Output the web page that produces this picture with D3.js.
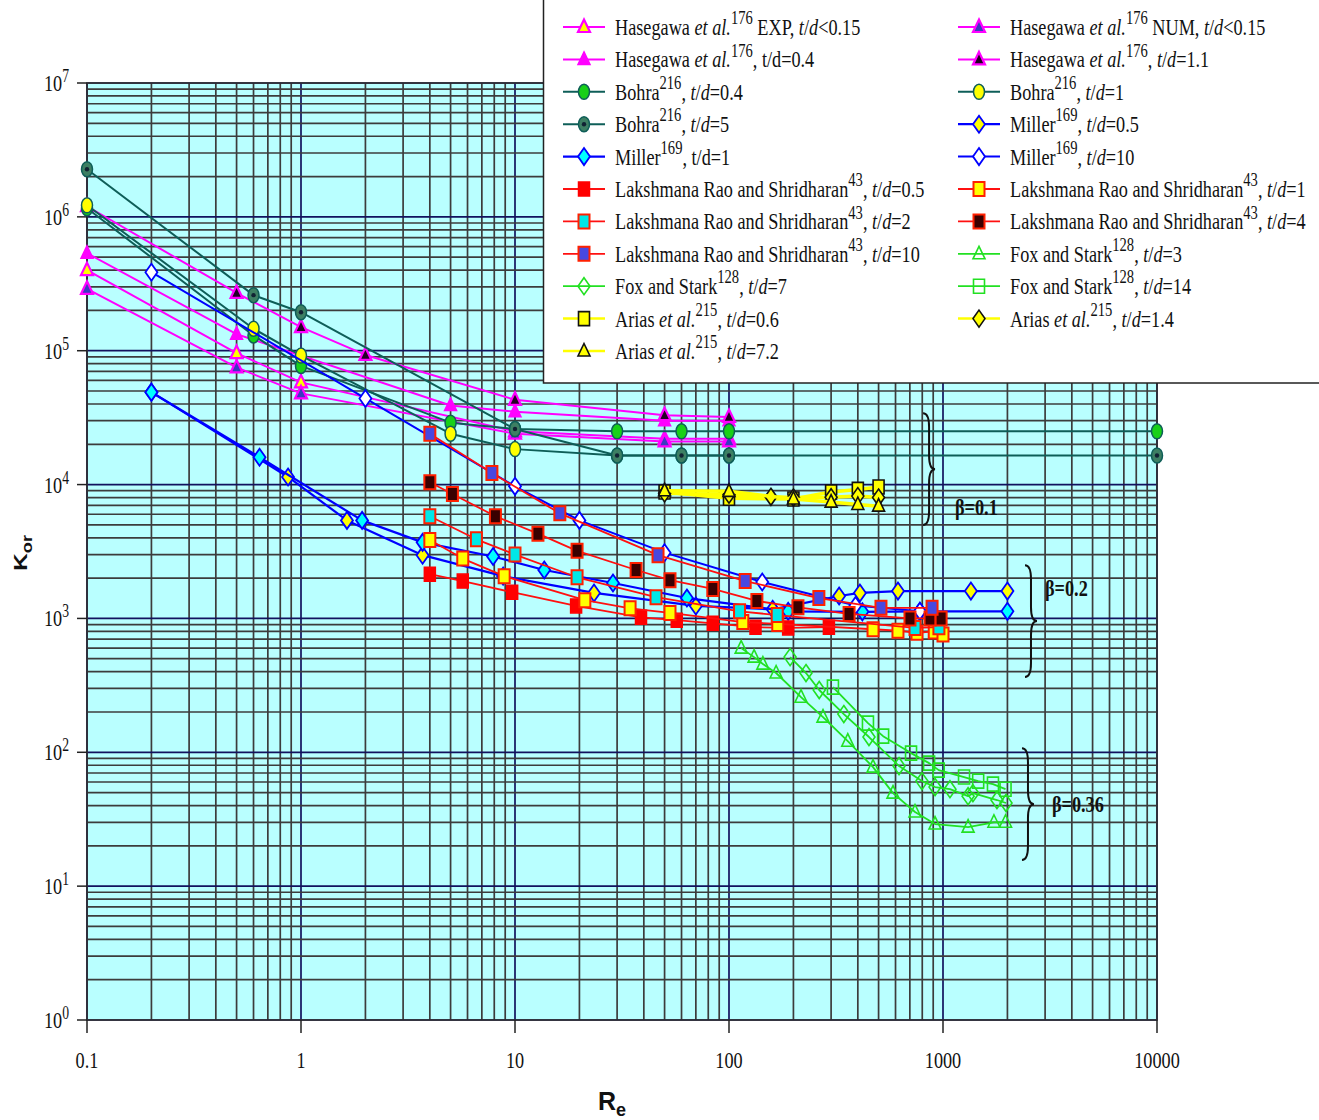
<!DOCTYPE html>
<html>
<head>
<meta charset="utf-8">
<script src="https://cdn.jsdelivr.net/npm/d3@7"></script>
<style>
  body { margin: 0; background: #fff; }
  svg text { font-family: "Liberation Serif", "Times New Roman", serif; white-space: pre; }
</style>
</head>
<body>
<svg id="draw-here"></svg>
<script>
// Hasegawa et al. (176)
const hasExpRe = [0.1, 0.5, 1, 10, 50, 100];
const hasExpK  = [4.0e5, 9.6e4, 5.8e4, 2.5e4, 2.2e4, 2.2e4];
const hasNumRe = [0.1, 0.5, 1, 10, 50, 100];
const hasNumK  = [2.9e5, 7.5e4, 4.8e4, 2.4e4, 2.1e4, 2.1e4];
const has04Re  = [0.1, 0.5, 5, 10, 50, 100];
const has04K   = [5.35e5, 1.33e5, 3.9e4, 3.5e4, 3.0e4, 3.0e4];
const has11Re  = [0.1, 0.5, 1, 2, 10, 50, 100];
const has11K   = [1.2e6, 2.7e5, 1.5e5, 9.3e4, 4.3e4, 3.3e4, 3.2e4];

// Bohra (216)
const bohra04Re = [0.1, 0.6, 1, 5, 10, 30, 60, 100, 10000];
const bohra04K  = [1.16e6, 1.3e5, 7.7e4, 2.9e4, 2.6e4, 2.5e4, 2.5e4, 2.5e4, 2.5e4];
const bohra1Re  = [0.1, 0.6, 1, 5, 10, 30, 60, 100];
const bohra1K   = [1.22e6, 1.46e5, 9.2e4, 2.4e4, 1.84e4, 1.65e4, 1.65e4, 1.65e4];
const bohra5Re  = [0.1, 0.6, 1, 10, 30, 60, 100, 10000];
const bohra5K   = [2.27e6, 2.6e5, 1.94e5, 2.6e4, 1.65e4, 1.65e4, 1.65e4, 1.65e4];

// Miller (169)
const miller05Re = [0.2, 0.87, 1.64, 3.7, 8.8, 23.4, 70, 160, 327, 409, 616, 1350, 2000];
const miller05K  = [4.9e4, 1.14e4, 5.4e3, 2.97e3, 2.07e3, 1.55e3, 1.24e3, 1.17e3, 1.47e3, 1.55e3, 1.6e3, 1.6e3, 1.6e3];
const miller1Re  = [0.2, 0.64, 1.93, 3.7, 7.9, 13.7, 28.7, 63.6, 189, 420, 780, 2000];
const miller1K   = [4.9e4, 1.6e4, 5.4e3, 3.7e3, 2.9e3, 2.3e3, 1.84e3, 1.42e3, 1.13e3, 1.12e3, 1.13e3, 1.13e3];
const miller10Re = [0.2, 2, 10, 20, 50, 143, 390, 780];
const miller10K  = [3.86e5, 4.4e4, 9.7e3, 5.4e3, 3.1e3, 1.87e3, 1.25e3, 1.13e3];

// Lakshmana Rao and Shridharan (43)
const lrs05Re = [4, 5.7, 9.7, 19.3, 38.8, 57, 84, 133, 189, 293];
const lrs05K  = [2.14e3, 1.9e3, 1.57e3, 1.24e3, 1.02e3, 970, 920, 860, 850, 860];
const lrs1Re  = [4, 5.7, 8.9, 21.2, 34.5, 53, 116, 169, 471, 616, 756, 910, 1000];
const lrs1K   = [3.85e3, 2.8e3, 2.07e3, 1.37e3, 1.19e3, 1.1e3, 940, 910, 830, 810, 780, 800, 760];
const lrs2Re  = [4, 6.6, 10, 19.5, 45.6, 112, 168, 740, 957];
const lrs2K   = [5.8e3, 3.9e3, 3.0e3, 2.03e3, 1.44e3, 1.13e3, 1.06e3, 850, 860];
const lrs4Re  = [4, 5.1, 8.1, 12.8, 19.5, 36.8, 53, 84, 135, 210, 364, 701, 870, 980];
const lrs4K   = [1.04e4, 8.5e3, 5.8e3, 4.3e3, 3.2e3, 2.3e3, 1.93e3, 1.66e3, 1.35e3, 1.21e3, 1.08e3, 1.0e3, 1.0e3, 1.0e3];
const lrs10Re = [4, 7.8, 16.2, 46.6, 119, 263, 513, 889];
const lrs10K  = [2.4e4, 1.22e4, 6.1e3, 2.97e3, 1.9e3, 1.42e3, 1.2e3, 1.2e3];

// Fox and Stark (128)
const fox3Re  = [114, 131, 144, 166, 217, 275, 359, 471, 584, 740, 918, 1310, 1730, 1960];
const fox3K   = [600, 514, 456, 391, 258, 183, 121, 77.5, 49.5, 35.8, 29.1, 27.6, 30, 30];
const fox7Re  = [193, 229, 264, 344, 451, 623, 797, 918, 1078, 1310, 1380, 1787, 1970];
const fox7K   = [514, 391, 292, 193, 130, 78.9, 60.9, 55, 53, 47, 49.5, 44, 41.8];
const fox14Re = [306, 446, 525, 709, 861, 955, 1254, 1460, 1712, 1960];
const fox14K  = [307, 165, 132, 98.6, 83, 73.6, 65.3, 60.9, 57.8, 53];

// Arias et al. (215)
const arias06Re = [50, 100, 200, 300, 400, 500];
const arias06K  = [8.8e3, 7.9e3, 7.8e3, 8.8e3, 9.2e3, 9.6e3];
const arias14Re = [50, 100, 157, 200, 300, 400, 500];
const arias14K  = [8.6e3, 8.4e3, 8.1e3, 8.0e3, 8.05e3, 8.2e3, 8.0e3];
const arias72Re = [50, 100, 200, 300, 400, 500];
const arias72K  = [9.0e3, 8.9e3, 7.8e3, 7.4e3, 7.1e3, 6.9e3];

// {..} = italic, ^nn = superscript
const legendLabels = [
  'Hasegawa {et al.}^176 EXP, {t}/{d}<0.15',
  'Hasegawa {et al.}^176 NUM, {t}/{d}<0.15',
  'Hasegawa {et al.}^176, t/d=0.4',
  'Hasegawa {et al.}^176, {t}/{d}=1.1',
  'Bohra^216, {t}/{d}=0.4',
  'Bohra^216, {t}/{d}=1',
  'Bohra^216, {t}/{d}=5',
  'Miller^169, {t}/{d}=0.5',
  'Miller^169, t/d=1',
  'Miller^169, {t}/{d}=10',
  'Lakshmana Rao and Shridharan^43, {t}/{d}=0.5',
  'Lakshmana Rao and Shridharan^43, {t}/{d}=1',
  'Lakshmana Rao and Shridharan^43, {t}/{d}=2',
  'Lakshmana Rao and Shridharan^43, {t}/{d}=4',
  'Lakshmana Rao and Shridharan^43, {t}/{d}=10',
  'Fox and Stark^128, {t}/{d}=3',
  'Fox and Stark^128, {t}/{d}=7',
  'Fox and Stark^128, {t}/{d}=14',
  'Arias {et al.}^215, {t}/{d}=0.6',
  'Arias {et al.}^215, {t}/{d}=1.4',
  'Arias {et al.}^215, {t}/{d}=7.2'
];

const xTickValues = [0.1, 1, 10, 100, 1000, 10000];
const xTickLabels = ['0.1', '1', '10', '100', '1000', '10000'];
const yTickValues = [1, 10, 1e2, 1e3, 1e4, 1e5, 1e6, 1e7];
const yTickExps   = ['0', '1', '2', '3', '4', '5', '6', '7'];

// beta groups: Re of the brace, K top / bottom, Re and K of the label
const betaLabels = ['β=0.1', 'β=0.2', 'β=0.36'];
const betaBraceRe = [807, 2416, 2339];
const betaBraceTop = [3.41e4, 2.5e3, 107];
const betaBraceBottom = [4.98e3, 365, 15.7];
const betaTextRe = [1138, 2997, 3229];
const betaTextK = [5.9e3, 1.47e3, 35.7];

const W = 1319, H = 1120;
const SQ = 0.76; // horizontal squeeze of the serif text

const svg = d3.select('#draw-here').attr('width', W).attr('height', H);

const x = d3.scaleLog().domain([0.1, 10000]).range([87, 1157]);
const y = d3.scaleLog().domain([1, 1e7]).range([1020, 83]);

// plot background
svg.append('rect')
  .attr('x', x(0.1)).attr('y', y(1e7))
  .attr('width', x(1e4) - x(0.1)).attr('height', y(1) - y(1e7))
  .attr('fill', '#b9ffff');

// log grid
let xGrid = [], yGrid = [];
for (let e = -1; e < 4; e++) for (let m = 1; m < 10; m++) xGrid.push({v: m * Math.pow(10, e), major: m === 1});
xGrid.push({v: 1e4, major: true});
for (let e = 0; e < 7; e++) for (let m = 1; m < 10; m++) yGrid.push({v: m * Math.pow(10, e), major: m === 1});
yGrid.push({v: 1e7, major: true});

let grid = svg.append('g');
grid.selectAll('.gx').data(xGrid).enter().append('line')
  .attr('x1', d => x(d.v)).attr('x2', d => x(d.v))
  .attr('y1', y(1e7)).attr('y2', y(1))
  .attr('stroke', d => d.major ? '#12125e' : '#3c3c3c')
  .attr('stroke-width', 1.7);
grid.selectAll('.gy').data(yGrid).enter().append('line')
  .attr('y1', d => y(d.v)).attr('y2', d => y(d.v))
  .attr('x1', x(0.1)).attr('x2', x(1e4))
  .attr('stroke', d => d.major ? '#12125e' : '#3c3c3c')
  .attr('stroke-width', 1.7);

svg.append('rect')
  .attr('x', x(0.1)).attr('y', y(1e7))
  .attr('width', x(1e4) - x(0.1)).attr('height', y(1) - y(1e7))
  .attr('fill', 'none').attr('stroke', '#303030').attr('stroke-width', 1.6);

// ticks
svg.selectAll('.tx').data(xTickValues).enter().append('line')
  .attr('x1', d => x(d)).attr('x2', d => x(d))
  .attr('y1', y(1)).attr('y2', y(1) + 13)
  .attr('stroke', '#222').attr('stroke-width', 1.5);
svg.selectAll('.ty').data(yTickValues).enter().append('line')
  .attr('y1', d => y(d)).attr('y2', d => y(d))
  .attr('x1', x(0.1) - 10).attr('x2', x(0.1))
  .attr('stroke', '#222').attr('stroke-width', 1.5);

function squeezed(parent, px, py, size, anchor) {
  return parent.append('text')
    .attr('transform', `translate(${px},${py}) scale(${SQ},1)`)
    .attr('font-size', size)
    .attr('text-anchor', anchor || 'start')
    .attr('fill', '#111');
}

xTickValues.forEach((v, i) => {
  squeezed(svg, x(v), y(1) + 48, 24, 'middle').text(xTickLabels[i]);
});
yTickValues.forEach((v, i) => {
  let t = squeezed(svg, x(0.1) - 18, y(v) + 8, 24, 'end');
  t.append('tspan').text('10');
  t.append('tspan').text(yTickExps[i]).attr('font-size', 18).attr('dy', -9);
});

// axis titles
let re = svg.append('text')
  .attr('x', 598).attr('y', 1110)
  .style('font-family', 'Liberation Sans, Arial, sans-serif')
  .attr('font-weight', 'bold').attr('font-size', 25).attr('fill', '#111');
re.append('tspan').text('R');
re.append('tspan').text('e').attr('font-size', 18).attr('dy', 6);

let kor = svg.append('text')
  .attr('transform', 'translate(27,553) rotate(-90) scale(1.3,1)')
  .attr('text-anchor', 'middle')
  .style('font-family', 'Liberation Sans, Arial, sans-serif')
  .attr('font-weight', 'bold').attr('font-size', 19).attr('fill', '#111');
kor.append('tspan').text('K');
kor.append('tspan').text('or').attr('font-size', 14).attr('dy', 5);

// marker shapes (the picture is stretched vertically)
const shapes = {
  tri: 'M0,-7.5L6,5L-6,5Z',
  square: 'M-5.5,-7H5.5V7H-5.5Z',
  diamond: 'M0,-8.5L6,0L0,8.5L-6,0Z',
  circle: 'M0,-7.5A5.5,7.5 0 1,1 0,7.5A5.5,7.5 0 1,1 0,-7.5Z'
};

const teal = '#0e5e58';
const series = [
  {re: hasExpRe, k: hasExpK, line: '#ff00ff', lw: 2, shape: 'tri', fill: '#ffff00', stroke: '#ff00ff', sw: 2.2},
  {re: hasNumRe, k: hasNumK, line: '#ff00ff', lw: 2, shape: 'tri', fill: '#3a3ac0', stroke: '#ff00ff', sw: 2.2},
  {re: has04Re, k: has04K, line: '#ff00ff', lw: 2, shape: 'tri', fill: '#ff00ff', stroke: '#ff00ff', sw: 1.5},
  {re: has11Re, k: has11K, line: '#ff00ff', lw: 2, shape: 'tri', fill: '#220022', stroke: '#ff00ff', sw: 2.2},
  {re: bohra04Re, k: bohra04K, line: teal, lw: 2, shape: 'circle', fill: '#18d018', stroke: teal, sw: 1.5},
  {re: bohra1Re, k: bohra1K, line: teal, lw: 2, shape: 'circle', fill: '#ffff00', stroke: teal, sw: 1.5},
  {re: bohra5Re, k: bohra5K, line: teal, lw: 2, shape: 'circle', fill: '#3d7f63', stroke: teal, sw: 1.5, dot: true},
  {re: miller05Re, k: miller05K, line: '#0000ff', lw: 2.2, shape: 'diamond', fill: '#ffff00', stroke: '#0000ff', sw: 1.8},
  {re: miller1Re, k: miller1K, line: '#0000ff', lw: 2.2, shape: 'diamond', fill: '#00ffff', stroke: '#0000ff', sw: 1.8},
  {re: miller10Re, k: miller10K, line: '#0000ff', lw: 2, shape: 'diamond', fill: '#ffffff', stroke: '#0000ff', sw: 1.8},
  {re: lrs05Re, k: lrs05K, line: '#ff1010', lw: 1.8, shape: 'square', fill: '#ff0000', stroke: '#ff0000', sw: 1.5},
  {re: lrs1Re, k: lrs1K, line: '#ff1010', lw: 1.8, shape: 'square', fill: '#ffff00', stroke: '#ff2000', sw: 2},
  {re: lrs2Re, k: lrs2K, line: '#ff1010', lw: 1.8, shape: 'square', fill: '#00e8e8', stroke: '#ff2000', sw: 2},
  {re: lrs4Re, k: lrs4K, line: '#ff1010', lw: 1.8, shape: 'square', fill: '#3a0000', stroke: '#ff2000', sw: 2},
  {re: lrs10Re, k: lrs10K, line: '#ff1010', lw: 1.8, shape: 'square', fill: '#4848e0', stroke: '#ff2000', sw: 2},
  {re: fox3Re, k: fox3K, line: '#22e022', lw: 1.8, shape: 'tri', fill: 'none', stroke: '#22e022', sw: 1.6},
  {re: fox7Re, k: fox7K, line: '#22e022', lw: 1.8, shape: 'diamond', fill: 'none', stroke: '#22e022', sw: 1.6},
  {re: fox14Re, k: fox14K, line: '#22e022', lw: 1.8, shape: 'square', fill: 'none', stroke: '#22e022', sw: 1.6},
  {re: arias06Re, k: arias06K, line: '#ffff00', lw: 3.5, shape: 'square', fill: '#ffff00', stroke: '#111', sw: 1.6},
  {re: arias14Re, k: arias14K, line: '#ffff00', lw: 3.5, shape: 'diamond', fill: '#ffff00', stroke: '#111', sw: 1.6},
  {re: arias72Re, k: arias72K, line: '#ffff00', lw: 3.5, shape: 'tri', fill: '#ffff00', stroke: '#111', sw: 1.6}
];

function drawMarker(sel, s) {
  sel.append('path').attr('d', shapes[s.shape])
    .attr('fill', s.fill).attr('stroke', s.stroke).attr('stroke-width', s.sw);
  if (s.dot) sel.append('circle').attr('r', 2.2).attr('fill', '#123').attr('stroke', 'none');
}

let line = d3.line().x(d => x(d[0])).y(d => y(d[1]));
let plot = svg.append('g');
series.forEach(s => {
  let pts = s.re.map((r, i) => [r, s.k[i]]);
  plot.append('path').datum(pts)
    .attr('d', line)
    .attr('fill', 'none').attr('stroke', s.line).attr('stroke-width', s.lw)
    .attr('stroke-linejoin', 'round');
  plot.selectAll(null).data(pts).enter().append('g')
    .attr('transform', d => `translate(${x(d[0])},${y(d[1])})`)
    .each(function() { drawMarker(d3.select(this), s); });
});

// beta braces
function bracePath(bx, y1, y2) {
  let w = 6, q = 14, ym = (y1 + y2) / 2;
  return `M${bx},${y1} Q${bx + w},${y1} ${bx + w},${y1 + q} L${bx + w},${ym - q} ` +
    `Q${bx + w},${ym} ${bx + 2 * w},${ym} Q${bx + w},${ym} ${bx + w},${ym + q} ` +
    `L${bx + w},${y2 - q} Q${bx + w},${y2} ${bx},${y2}`;
}
betaLabels.forEach((lab, i) => {
  svg.append('path')
    .attr('d', bracePath(x(betaBraceRe[i]), y(betaBraceTop[i]), y(betaBraceBottom[i])))
    .attr('fill', 'none').attr('stroke', '#111').attr('stroke-width', 2);
  squeezed(svg, x(betaTextRe[i]), y(betaTextK[i]), 24).attr('font-weight', 'bold').text(lab);
});

// legend
let legend = svg.append('g');
legend.append('rect')
  .attr('x', 543.5).attr('y', -2).attr('width', 800).attr('height', 385)
  .attr('fill', '#fff').attr('stroke', '#222').attr('stroke-width', 1.5);

function richText(t, str, size) {
  let parts = str.split(/(\{[^}]*\}|\^\d+)/).filter(p => p.length);
  let raised = false;
  parts.forEach(p => {
    let ts = t.append('tspan');
    if (p[0] === '^') {
      ts.text(p.slice(1)).attr('font-size', size * 0.8).attr('dy', -size * 0.45);
      raised = true;
    } else {
      if (raised) { ts.attr('dy', size * 0.45); raised = false; }
      if (p[0] === '{') ts.text(p.slice(1, -1)).attr('font-style', 'italic');
      else ts.text(p);
    }
  });
}

legendLabels.forEach((lab, i) => {
  let col = i % 2, row = Math.floor(i / 2);
  let lx = col ? 958 : 563, ly = 27 + row * 32.4;
  let s = series[i];
  legend.append('line')
    .attr('x1', lx).attr('x2', lx + 42).attr('y1', ly).attr('y2', ly)
    .attr('stroke', s.line).attr('stroke-width', Math.min(s.lw, 2.5));
  let m = legend.append('g').attr('transform', `translate(${lx + 21},${ly})`);
  drawMarker(m, s);
  let t = squeezed(legend, col ? 1010 : 615, ly + 8, 24);
  richText(t, lab, 24);
});
</script>
</body>
</html>
